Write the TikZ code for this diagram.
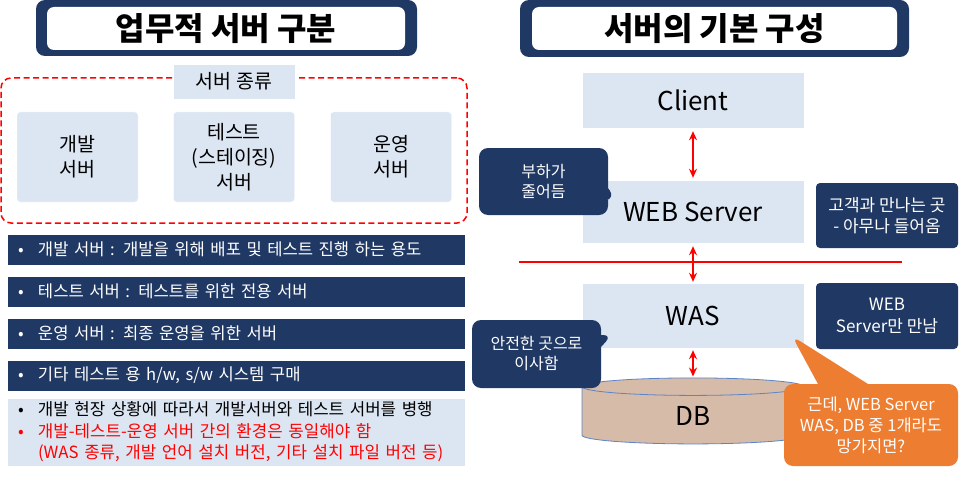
\documentclass[tikz,border=0pt]{standalone}
\usepackage{fontspec}
\setmainfont{Noto Sans CJK KR}
\usepackage{xcolor}
\usepackage{tikz}
\usetikzlibrary{shapes.geometric,shapes.callouts,arrows.meta}

\definecolor{navy}{HTML}{203864}
\definecolor{paleblue}{HTML}{DCE6F2}
\definecolor{dbtan}{HTML}{D6BBA9}
\definecolor{dbedge}{HTML}{5B85C8}
\definecolor{warnorange}{HTML}{ED7D31}

\begin{document}
\begin{tikzpicture}[x=1pt, y=-1pt,
  ttlbg/.style={fill=navy, rounded corners=9pt, inner sep=0pt},
  ttl/.style={fill=white, rounded corners=7pt, inner sep=0pt, font=\fontsize{32}{36}\selectfont\bfseries},
  kind/.style={fill=paleblue, draw=white, rounded corners=3pt, minimum width=121pt, minimum height=90pt, inner sep=0pt, align=center, font=\fontsize{19.5}{25}\selectfont},
  bar/.style={fill=navy, text=white, draw=white, minimum height=31pt, inner xsep=11pt, text width=436pt, align=left, font=\fontsize{16.6}{20}\selectfont},
  tier/.style={fill=paleblue, draw=white, minimum width=222pt, inner sep=0pt, font=\fontsize{26}{30}\selectfont},
  note/.style={fill=navy, text=white, rounded corners=4pt, minimum width=142pt, inner sep=0pt, align=center, font=\fontsize{17}{21}\selectfont},
  bubble/.style={rectangle callout, fill=navy, text=white, rounded corners=9pt, callout pointer width=12pt, minimum width=129pt, minimum height=67pt, inner sep=0pt, align=center, font=\fontsize{16}{20}\selectfont},
  link/.style={red, line width=2pt, {Stealth[length=9pt,width=8pt]}-{Stealth[length=9pt,width=8pt]}}]
  \useasboundingbox (0,0) rectangle (960,476);

  % Titles
  \node[ttlbg, minimum width=381pt, minimum height=56pt] (lttlbg) at (226.5,28) {};
  \node[ttl, minimum width=358pt, minimum height=43pt] (lttl) at (226,28.5) {업무적 서버 구분};
  \node[ttlbg, minimum width=389pt, minimum height=57pt] (rttlbg) at (714.5,28.5) {};
  \node[ttl, minimum width=365pt, minimum height=43pt] (rttl) at (714.5,28.5) {서버의 기본 구성};

  % Server kinds
  \node[draw=red, dash pattern=on 6pt off 3.5pt, line width=1.5pt, rounded corners=10pt, minimum width=466pt, minimum height=145pt] (kinds) at (234,150.5) {};
  \node[kind, minimum height=35pt, minimum width=122pt, rounded corners=0pt] (kindlbl) at (234,81.5) {서버 종류};
  \node[kind] (dev) at (77.5,157) {개발\\서버};
  \node[kind] (stage) at (234,157) {테스트\\(스테이징)\\서버};
  \node[kind] (prod) at (391,157) {운영\\서버};

  % Descriptions
  \node[bar] (bar1) at (236,249.5) {\makebox[20pt][l]{•}개발 서버 : 개발을 위해 배포 및 테스트 진행 하는 용도};
  \node[bar] (bar2) at (236,291.5) {\makebox[20pt][l]{•}테스트 서버 : 테스트를 위한 전용 서버};
  \node[bar] (bar3) at (236,333.5) {\makebox[20pt][l]{•}운영 서버 : 최종 운영을 위한 서버};
  \node[bar] (bar4) at (236,375.5) {\makebox[20pt][l]{•}기타 테스트 용 h/w, s/w 시스템 구매};
  \node[bar, fill=paleblue, text=black, minimum height=68pt, font=\fontsize{16.8}{21.5}\selectfont] (misc) at (236,432)
    {\makebox[20pt][l]{•}개발 현장 상황에 따라서 개발서버와 테스트 서버를 병행\\
     \textcolor{red}{\makebox[20pt][l]{•}개발-테스트-운영 서버 간의 환경은 동일해야 함}\\
     \textcolor{red}{\hspace*{20pt}(WAS 종류, 개발 언어 설치 버전, 기타 설치 파일 버전 등)}};

  % Server tiers
  \node[tier, minimum height=56pt] (client) at (693,100) {Client};
  \node[tier, minimum height=63pt] (web) at (693,211.5) {WEB Server};
  \node[tier, minimum height=65pt] (was) at (693,315.5) {WAS};
  \node[cylinder, shape border rotate=90, aspect=0.5, draw=dbedge, line width=0.8pt, fill=dbtan, minimum width=222pt, minimum height=66pt, inner sep=0pt, font=\fontsize{26}{30}\selectfont] (db) at (693,415.5) {DB};

  % Notes
  \node[note, minimum height=65pt] (webnote) at (887,215.5) {고객과 만나는 곳\\- 아무나 들어옴};
  \node[note, minimum height=66pt, font=\fontsize{17}{22}\selectfont] (wasnote) at (887,316) {WEB\\Server만 만남};
  \node[bubble, callout absolute pointer={(615,198)}] (lessload) at (543.5,181.5) {부하가\\줄어듬};
  \node[bubble, minimum height=68pt, callout absolute pointer={(612,335)}] (safe) at (536.5,354) {안전한 곳으로\\이사함};
  \node[bubble, fill=warnorange, minimum width=174pt, minimum height=82pt, callout pointer width=50pt, font=\fontsize{16.5}{21}\selectfont, callout absolute pointer={(792,336)}] (whatif) at (871,425) {근데, WEB Server\\WAS, DB 중 1개라도\\망가지면?};

  % Connections
  \coordinate (cutl) at (519,262);
  \coordinate (cutr) at (902,262);
  \draw[red, line width=1.5pt] (cutl) -- (cutr);
  \draw[link, shorten <=3pt, shorten >=2pt] (client) -- (web);
  \draw[link, shorten <=3pt, shorten >=1pt] (web) -- (was);
  \draw[link, shorten <=2pt, shorten >=1pt] (was) -- (db.top);
\end{tikzpicture}
\end{document}
